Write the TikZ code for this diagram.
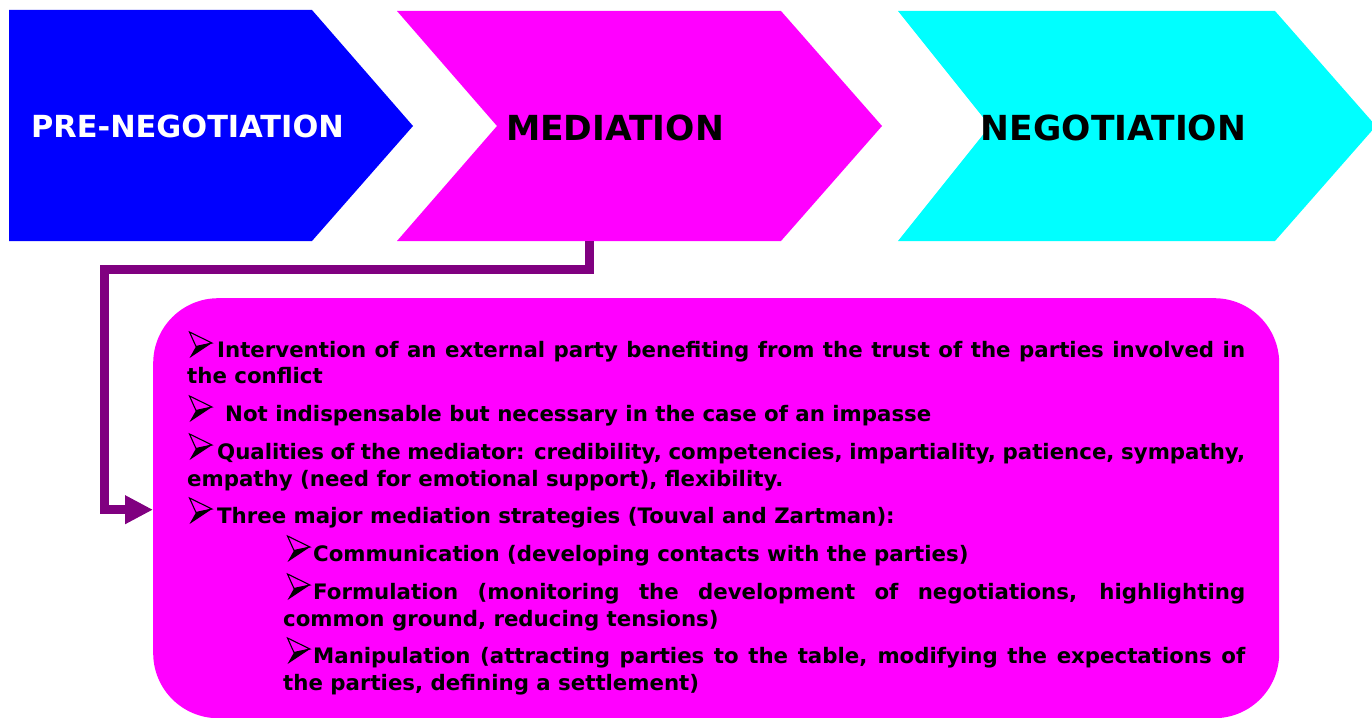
\documentclass[tikz,border=0pt]{standalone}
\usepackage{fontspec}
\setmainfont{DejaVu Sans}
\usetikzlibrary{arrows.meta}
\definecolor{cblue}{HTML}{0000FF}
\definecolor{cmag}{HTML}{FF00FF}
\definecolor{ccyan}{HTML}{00FFFF}
\definecolor{cpurp}{HTML}{800080}
\newcommand{\bsp}{\hspace*{28pt}}
\tikzset{
  ttl/.style={anchor=base, inner sep=0pt, font=\bfseries\fontsize{34.5}{36}\selectfont},
  txtline/.style={anchor=base west, inner sep=0pt, font=\bfseries\fontsize{21.3}{26}\selectfont},
  conn/.style={draw=cpurp, line width=9pt, -{Triangle[length=28pt,width=27pt]}},
  bulpic/.pic={
    \fill[black] (7,-10.5) -- (23,-14) -- (0.5,1) -- cycle;
    \draw[black, line width=1.1pt, line join=miter] (0.5,-25) -- (23,-14) -- (7,-10.5) -- cycle;
  },
}
\begin{document}
\begin{tikzpicture}[x=1pt,y=-1pt]
\useasboundingbox (0,0) rectangle (1372,717);
\clip (0,0) rectangle (1372,717);
% chevrons
\fill[cblue] (9,10) -- (312,10) -- (413,126) -- (312,241) -- (9,241) -- cycle;
\fill[cmag] (397,11) -- (781,11) -- (882,126) -- (781,241) -- (397,241) -- (497,126) -- cycle;
\fill[ccyan] (898,11) -- (1275,11) -- (1376,126) -- (1275,241) -- (898,241) -- (990,126) -- cycle;
\node[ttl, font=\bfseries\fontsize{30.4}{32}\selectfont, text=white] (pre) at (187.5,137) {PRE-NEGOTIATION};
\node[ttl] (med) at (615,140) {MEDIATION};
\node[ttl] (neg) at (1113.5,140) {NEGOTIATION};
\coordinate (medbot) at (589,241);
% content box
\node[fill=cmag, rounded corners=65pt, minimum width=1126pt, minimum height=420pt, inner sep=0pt, anchor=north west] (box) at (153,298) {};
\draw[conn] (medbot) -- ++(0,28.5) -| ([xshift=-48.5pt,yshift=-1.5pt]box.west) -- ([yshift=-1.5pt]box.west);
% bullets
\pic at (189,357) {bulpic};
\pic at (189,421) {bulpic};
\pic at (189,459) {bulpic};
\pic at (189,523) {bulpic};
\pic at (287,561) {bulpic};
\pic at (287,599) {bulpic};
\pic at (287,663) {bulpic};
% text lines
\node[txtline] (l1) at (189,357) {\makebox[1056pt][s]{\bsp Intervention of an external party benefiting from the trust of the parties involved in}};
\node[txtline] (l2) at (187,383) {the conflict};
\node[txtline] (l3) at (189,421) {\hspace*{36pt}Not indispensable but necessary in the case of an impasse};
\node[txtline] (l4) at (189,459) {\makebox[1056pt][s]{\bsp Qualities of the mediator: credibility, competencies, impartiality, patience, sympathy,}};
\node[txtline] (l5) at (187,486) {empathy (need for emotional support), flexibility.};
\node[txtline] (l6) at (189,523) {\bsp Three major mediation strategies (Touval and Zartman):};
\node[txtline] (l7) at (287,561) {\hspace*{26pt}Communication (developing contacts with the parties)};
\node[txtline] (l8) at (287,599) {\makebox[958pt][s]{\hspace*{26pt}Formulation (monitoring the development of negotiations, highlighting}};
\node[txtline] (l9) at (283,626) {common ground, reducing tensions)};
\node[txtline] (l10) at (287,663) {\makebox[958pt][s]{\hspace*{26pt}Manipulation (attracting parties to the table, modifying the expectations of}};
\node[txtline] (l11) at (283,690) {the parties, defining a settlement)};
\end{tikzpicture}
\end{document}
